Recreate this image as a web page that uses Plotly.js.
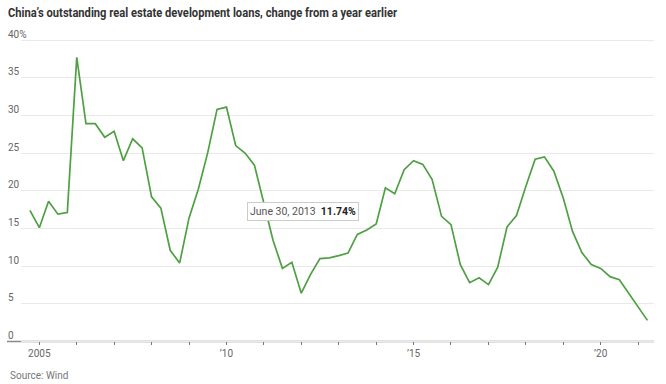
<!DOCTYPE html>
<html>
<head>
<meta charset="utf-8">
<script src="https://cdn.plot.ly/plotly-3.0.1.min.js"></script>
<style>
  html, body { margin: 0; padding: 0; background: #fff; }
  #chart { width: 666px; height: 384px; }
</style>
</head>
<body>
<div id="chart"></div>
<script>
// Quarter-end dates (plotted at the start of each quarter, as in the source chart)
const quarterDates = [
  '2004-12-31',
  '2005-03-31','2005-06-30','2005-09-30','2005-12-31',
  '2006-03-31','2006-06-30','2006-09-30','2006-12-31',
  '2007-03-31','2007-06-30','2007-09-30','2007-12-31',
  '2008-03-31','2008-06-30','2008-09-30','2008-12-31',
  '2009-03-31','2009-06-30','2009-09-30','2009-12-31',
  '2010-03-31','2010-06-30','2010-09-30','2010-12-31',
  '2011-03-31','2011-06-30','2011-09-30','2011-12-31',
  '2012-03-31','2012-06-30','2012-09-30','2012-12-31',
  '2013-03-31','2013-06-30','2013-09-30','2013-12-31',
  '2014-03-31','2014-06-30','2014-09-30','2014-12-31',
  '2015-03-31','2015-06-30','2015-09-30','2015-12-31',
  '2016-03-31','2016-06-30','2016-09-30','2016-12-31',
  '2017-03-31','2017-06-30','2017-09-30','2017-12-31',
  '2018-03-31','2018-06-30','2018-09-30','2018-12-31',
  '2019-03-31','2019-06-30','2019-09-30','2019-12-31',
  '2020-03-31','2020-06-30','2020-09-30','2020-12-31',
  '2021-03-31','2021-06-30'
];

// Year-over-year change in outstanding real estate development loans, %
const loanGrowth = [
  17.4,
  15.1, 18.6, 16.9, 17.1,
  37.7, 28.9, 28.9, 27.1,
  27.9, 24.0, 26.9, 25.7,
  19.2, 17.7, 12.1, 10.4,
  16.4, 20.2, 25.0, 30.8,
  31.1, 26.0, 25.0, 23.4,
  18.4, 13.4, 9.7, 10.5,
  6.4, 8.9, 11.0, 11.1,
  11.4, 11.74, 14.2, 14.8,
  15.6, 20.4, 19.6, 22.8,
  24.0, 23.5, 21.5, 16.6,
  15.5, 10.2, 7.8, 8.45,
  7.55, 9.85, 15.2, 16.7,
  20.6, 24.2, 24.5, 22.6,
  19.0, 14.6, 11.8, 10.2,
  9.7, 8.6, 8.2, 6.4,
  4.55, 2.8
];

const yTickVals = [0, 5, 10, 15, 20, 25, 30, 35, 40];
const yTickText = ['0', '5', '10', '15', '20', '25', '30', '35', '40%'];

const xTickVals = ['2005-01-01','2006-01-01','2007-01-01','2008-01-01','2009-01-01',
  '2010-01-01','2011-01-01','2012-01-01','2013-01-01','2014-01-01','2015-01-01',
  '2016-01-01','2017-01-01','2018-01-01','2019-01-01','2020-01-01','2021-01-01'];
const xTickText = ['2005','','','','','\u201910','','','','','\u201915','','','','','\u201920',''];

const titleText = 'China\u2019s outstanding real estate development loans, change from a year earlier';
const sourceText = 'Source: Wind';
const tipDate = 'June 30, 2013';
const tipValue = '11.74%';

const FONT = 'Roboto, "Liberation Sans", sans-serif';

const trace = {
  type: 'scatter',
  mode: 'lines',
  x: quarterDates,
  y: loanGrowth,
  xperiod: 'M3',
  xperiodalignment: 'start',
  line: { color: '#4f9f43', width: 1.7 },
  hoverinfo: 'skip'
};

const layout = {
  width: 666,
  height: 384,
  margin: { l: 21, r: 12, t: 25, b: 35, pad: 0 },
  paper_bgcolor: '#ffffff',
  plot_bgcolor: '#ffffff',
  showlegend: false,
  hovermode: false,
  font: { family: FONT, color: '#666666', size: 10 },
  title: {
    text: titleText,
    font: { family: FONT, size: 13, color: '#333333', weight: 700 },
    x: 8 / 666, xref: 'container', xanchor: 'left',
    y: 1 - 12.5 / 384, yref: 'container', yanchor: 'middle'
  },
  xaxis: {
    type: 'date',
    range: ['2004-07-06', '2021-06-04'],
    anchor: 'free',
    position: 1 / 43,
    tickmode: 'array',
    tickvals: xTickVals,
    ticktext: xTickText,
    ticks: 'outside',
    ticklen: 3,
    tickwidth: 1,
    tickcolor: '#777777',
    showgrid: false,
    zeroline: false,
    showline: false,
    tickfont: { family: FONT, size: 10, color: '#666666' },
    fixedrange: true
  },
  yaxis: {
    range: [-1, 42],
    tickmode: 'array',
    tickvals: yTickVals,
    ticktext: yTickText,
    ticks: '',
    showgrid: true,
    gridcolor: '#e9e9e9',
    gridwidth: 1,
    zeroline: false,
    showline: false,
    ticklabelposition: 'inside',
    ticklabelstandoff: -16,
    ticklabelshift: -6,
    tickfont: { family: FONT, size: 10, color: '#666666' },
    fixedrange: true
  },
  shapes: [
    {
      type: 'line', xref: 'paper', yref: 'y',
      x0: -14 / 633, x1: 1, y0: 0, y1: 0,
      line: { color: '#8a8a8a', width: 1.5 },
      layer: 'below'
    }
  ],
  annotations: [
    {
      xref: 'paper', yref: 'paper',
      x: -13 / 633, y: (349 - 375) / 324,
      xanchor: 'left', yanchor: 'middle',
      text: sourceText, showarrow: false,
      font: { family: FONT, size: 10, color: '#777777' }
    },
    {
      xref: 'x', yref: 'y',
      x: '2012-01-20', y: 17.3,
      xanchor: 'center', yanchor: 'middle',
      text: tipDate + '  <b style="color:#222">' + tipValue + '</b>',
      showarrow: false,
      bgcolor: '#ffffff',
      bordercolor: '#cccccc',
      borderwidth: 1,
      borderpad: 2,
      font: { family: FONT, size: 10.5, color: '#555555' }
    }
  ]
};

Plotly.newPlot('chart', [trace], layout, { displayModeBar: false, staticPlot: true }).then(function (gd) {
  // The source uses a narrow typeface: condense the title to the reference width.
  const t = gd.querySelector('.gtitle');
  if (t) {
    t.setAttribute('textLength', '389');
    t.setAttribute('lengthAdjust', 'spacingAndGlyphs');
  }
});
</script>
</body>
</html>
